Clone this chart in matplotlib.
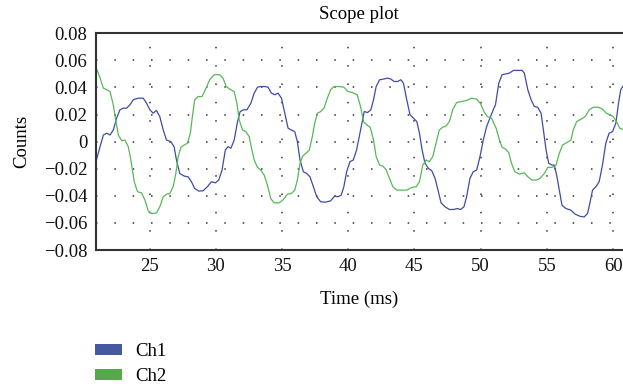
import numpy as np
import matplotlib
matplotlib.use("Agg")
import matplotlib.pyplot as plt
from matplotlib.patches import Patch

plt.rcParams['font.family'] = ['Liberation Serif', 'DejaVu Serif']

####################### data
t_ch1 = [20.93, 21.26, 21.51, 21.76, 22.01, 22.26, 22.51, 22.76, 23.01, 23.26, 23.52,
         23.77, 24.14, 24.52, 24.77, 25.02, 25.27, 25.52, 25.77, 26.03, 26.28, 26.6,
         26.85, 27.03, 27.28, 27.61, 27.91, 28.16, 28.41, 28.71, 29.04, 29.36, 29.67,
         29.97, 30.22, 30.47, 30.72, 30.92, 31.14, 31.39, 31.64, 31.84, 32.09, 32.35,
         32.65, 32.9, 33.15, 33.4, 33.7, 33.95, 34.2, 34.45, 34.7, 34.96, 35.21,
         35.46, 35.71, 35.96, 36.16, 36.36, 36.61, 36.86, 37.11, 37.37, 37.62, 37.92,
         38.29, 38.67, 38.97, 39.22, 39.47, 39.67, 39.88, 40.13, 40.38, 40.63, 40.88,
         41.06, 41.21, 41.46, 41.71, 41.91, 42.11, 42.37, 42.67, 42.97, 43.22, 43.47,
         43.72, 43.97, 44.17, 44.42, 44.67, 44.93, 45.18, 45.38, 45.58, 45.8, 46.06,
         46.31, 46.56, 46.81, 47.01, 47.31, 47.64, 47.94, 48.24, 48.49, 48.74, 48.94,
         49.19, 49.44, 49.7, 49.95, 50.2, 50.45, 50.7, 50.95, 51.12, 51.37, 51.62,
         51.92, 52.17, 52.48, 52.8, 53.13, 53.3, 53.56, 53.81, 54.06, 54.31, 54.56,
         54.74, 54.94, 55.14, 55.39, 55.56, 55.74, 55.94, 56.14, 56.44, 56.82, 57.14,
         57.5, 57.82, 58.07, 58.27, 58.45, 58.7, 58.95, 59.2, 59.45, 59.7, 59.96,
         60.21, 60.41, 60.58, 60.75]
v_ch1 = [-0.0155, -0.0037, 0.0049, 0.0062, 0.0049, 0.0086, 0.0173, 0.0235, 0.0247, 0.0247, 0.0272,
         0.0309, 0.0321, 0.0321, 0.0284, 0.0235, 0.021, 0.023, 0.0185, 0.0086, 0.0012, 0.0,
         -0.0037, -0.0136, -0.0235, -0.0254, -0.026, -0.0296, -0.0346, -0.0365, -0.0363, -0.0333, -0.0296,
         -0.0304, -0.0284, -0.021, -0.0062, -0.0037, -0.0049, 0.0012, 0.0148, 0.0222, 0.0235, 0.0235,
         0.0284, 0.0358, 0.0402, 0.0407, 0.0407, 0.0402, 0.0358, 0.0346, 0.0358, 0.0321, 0.021,
         0.0099, 0.0086, 0.0074, 0.0, -0.0136, -0.0222, -0.0235, -0.0259, -0.0333, -0.0407, -0.0444,
         -0.0447, -0.0437, -0.0402, -0.0407, -0.0395, -0.0333, -0.0222, -0.0148, -0.0136, -0.0062, 0.0062,
         0.0148, 0.0222, 0.0215, 0.0235, 0.0309, 0.0407, 0.0457, 0.0462, 0.0469, 0.0462, 0.0444,
         0.0444, 0.0457, 0.0432, 0.0309, 0.0198, 0.0173, 0.0148, 0.0062, -0.0062, -0.016, -0.0198,
         -0.0215, -0.0272, -0.037, -0.0452, -0.0481, -0.0501, -0.0501, -0.0494, -0.0501, -0.0481, -0.0407,
         -0.0272, -0.0222, -0.021, -0.0111, 0.0012, 0.0111, 0.0173, 0.0235, 0.0272, 0.0432, 0.0494,
         0.0501, 0.0506, 0.0526, 0.0526, 0.0526, 0.0506, 0.0383, 0.0309, 0.0259, 0.0254, 0.021,
         0.0086, -0.0062, -0.016, -0.0173, -0.0173, -0.0247, -0.0358, -0.0469, -0.0494, -0.0506, -0.0536,
         -0.0551, -0.0556, -0.0531, -0.0444, -0.0358, -0.0333, -0.0296, -0.0173, -0.0012, 0.0062, 0.0074,
         0.0136, 0.0284, 0.0383, 0.041]

t_ch2 = [20.93, 21.26, 21.51, 21.76, 22.01, 22.26, 22.44, 22.64, 22.89, 23.14, 23.39,
         23.59, 23.84, 24.09, 24.39, 24.65, 24.9, 25.15, 25.52, 25.77, 26.03, 26.28,
         26.53, 26.78, 26.98, 27.16, 27.36, 27.61, 27.86, 28.08, 28.23, 28.41, 28.66,
         28.96, 29.21, 29.54, 29.87, 30.29, 30.54, 30.79, 31.05, 31.39, 31.59, 31.77,
         32.02, 32.27, 32.52, 32.7, 32.9, 33.15, 33.4, 33.65, 33.9, 34.15, 34.4,
         34.78, 35.11, 35.41, 35.71, 35.96, 36.16, 36.36, 36.56, 36.81, 37.06, 37.29,
         37.47, 37.67, 37.92, 38.17, 38.42, 38.67, 38.92, 39.3, 39.67, 39.98, 40.3,
         40.68, 40.93, 41.16, 41.41, 41.66, 41.91, 42.11, 42.37, 42.62, 42.87, 43.12,
         43.37, 43.67, 44.05, 44.42, 44.8, 45.13, 45.38, 45.63, 45.88, 46.13, 46.38,
         46.63, 46.88, 47.13, 47.39, 47.64, 47.89, 48.19, 48.57, 48.94, 49.32, 49.7,
         50.0, 50.25, 50.5, 50.82, 51.17, 51.42, 51.62, 51.87, 52.12, 52.33, 52.58,
         52.93, 53.3, 53.56, 53.88, 54.18, 54.48, 54.81, 55.06, 55.39, 55.69, 55.94,
         56.19, 56.49, 56.82, 56.99, 57.25, 57.57, 57.9, 58.2, 58.5, 58.9, 59.2,
         59.5, 59.76, 60.01, 60.26, 60.51, 60.75]
v_ch2 = [0.0556, 0.0469, 0.0395, 0.0383, 0.037, 0.0272, 0.016, 0.0049, 0.0007, 0.0012, -0.0037,
         -0.0136, -0.0296, -0.037, -0.0378, -0.0432, -0.0511, -0.0531, -0.0526, -0.0481, -0.0407, -0.0388,
         -0.0383, -0.0333, -0.0235, -0.0111, -0.0042, -0.0025, -0.0012, 0.0062, 0.0185, 0.0309, 0.0333,
         0.0333, 0.0383, 0.0457, 0.0494, 0.0494, 0.0469, 0.0407, 0.0388, 0.037, 0.0284, 0.016,
         0.0086, 0.0074, 0.0037, -0.0049, -0.0136, -0.019, -0.021, -0.0247, -0.0321, -0.042, -0.0452,
         -0.0452, -0.0427, -0.0388, -0.0383, -0.0358, -0.0284, -0.016, -0.0106, -0.0086, -0.0062, 0.0037,
         0.0136, 0.021, 0.0222, 0.0247, 0.0321, 0.0383, 0.0407, 0.0407, 0.0402, 0.037, 0.0363,
         0.0346, 0.0259, 0.0148, 0.0123, 0.0106, 0.0012, -0.0111, -0.0173, -0.018, -0.021, -0.0272,
         -0.0333, -0.0358, -0.0358, -0.0358, -0.0338, -0.0333, -0.0296, -0.0173, -0.0136, -0.0148, -0.0111,
         -0.0012, 0.0086, 0.0106, 0.0116, 0.0148, 0.0235, 0.0289, 0.0296, 0.0304, 0.0321, 0.0314,
         0.0279, 0.0222, 0.0185, 0.0173, 0.0099, 0.0012, -0.0042, -0.0054, -0.0081, -0.016, -0.0222,
         -0.024, -0.023, -0.0259, -0.0284, -0.0284, -0.0272, -0.0235, -0.019, -0.019, -0.0173, -0.0086,
         -0.0025, -0.0007, 0.0012, 0.0086, 0.0148, 0.0165, 0.0185, 0.0235, 0.0254, 0.0254, 0.024,
         0.021, 0.0198, 0.0185, 0.0148, 0.0099, 0.009]

labels = ["Ch1", "Ch2"]
colors = ["#3f4ca6", "#58b856"]
patch_colors = ["#46599e", "#54a948"]
x_ticks = [25, 30, 35, 40, 45, 50, 55, 60]
y_ticks = [-0.08, -0.06, -0.04, -0.02, 0, 0.02, 0.04, 0.06, 0.08]
y_ticklabels = ["\u22120.08", "\u22120.06", "\u22120.04", "\u22120.02", "0",
                "0.02", "0.04", "0.06", "0.08"]

fs = 13.5

####################### figure
fig = plt.figure(figsize=(6.23, 3.87), dpi=100)
ax = fig.add_axes([0.1536, 0.354, 0.8464, 0.560])

ax.plot(t_ch1, v_ch1, color=colors[0], lw=0.9)
ax.plot(t_ch2, v_ch2, color=colors[1], lw=0.9)

ax.set_xlim(20.93, 60.75)
ax.set_ylim(-0.08, 0.08)
ax.set_xticks(x_ticks)
ax.set_yticks(y_ticks)
ax.set_yticklabels(y_ticklabels)
ax.tick_params(length=0, labelsize=fs, colors="#111111", pad=6)

ax.grid(True, color="#333333", linestyle=(0, (1, 11)), linewidth=1.1)

for s in ["left", "bottom", "top"]:
    ax.spines[s].set_color("#333333")
    ax.spines[s].set_linewidth(1.5)
ax.spines["right"].set_visible(False)

ax.set_title("Scope plot", fontsize=fs, pad=10)
ax.set_xlabel("Time (ms)", fontsize=fs, labelpad=11)
ax.set_ylabel("Counts", fontsize=fs, labelpad=10)

handles = [Patch(facecolor=c, edgecolor="none") for c in patch_colors]
fig.legend(handles, labels, loc="upper left", bbox_to_anchor=(0.1525, 0.114),
           frameon=False, fontsize=fs, handlelength=1.45, handleheight=0.55,
           handletextpad=0.7, labelspacing=0.45, borderaxespad=0, borderpad=0)

fig.savefig("out.png", dpi=100)
